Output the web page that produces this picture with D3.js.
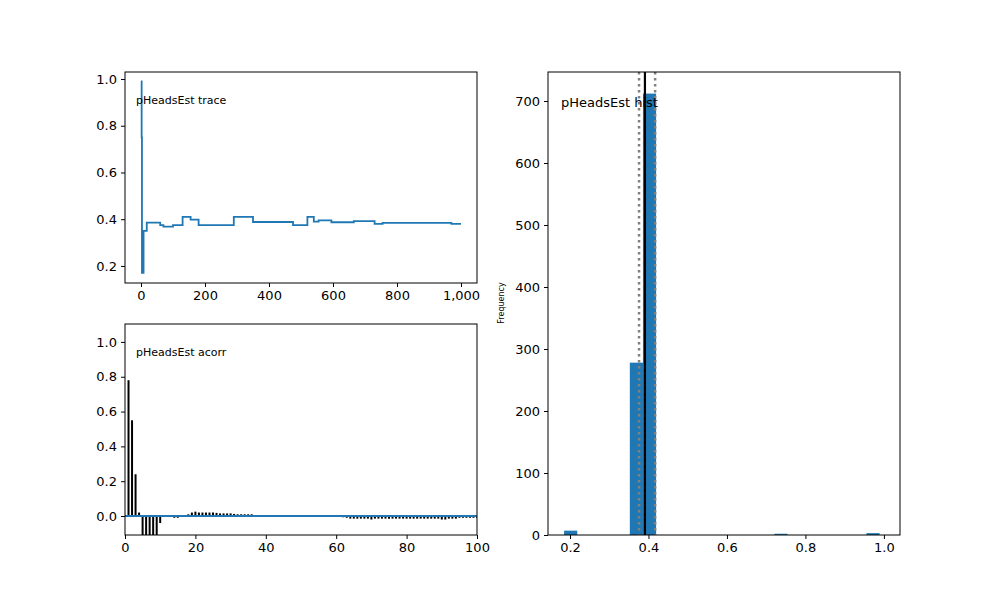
<!DOCTYPE html>
<html>
<head>
<meta charset="utf-8">
<script src="https://cdn.jsdelivr.net/npm/d3@7"></script>
<style>
body { margin: 0; background: #fff; }
text { font-family: "DejaVu Sans", sans-serif; }
</style>
</head>
<body>
<div id="chart"></div>
<script>
// trace: step points [iteration, estimate]
var traceX = [0, 2, 3, 8, 18, 60, 70, 100, 130, 155, 180, 290, 350, 475, 520, 540, 555, 595, 665, 730, 755, 970, 1000];
var traceY = [0.99, 0.75, 0.17, 0.35, 0.385, 0.375, 0.368, 0.375, 0.41, 0.398, 0.375, 0.41, 0.388, 0.375, 0.41, 0.39, 0.395, 0.387, 0.392, 0.38, 0.384, 0.38, 0.38];

// autocorrelation for lags 1..100
var acorr = [0.78, 0.55, 0.24, 0.02, -0.12, -0.12, -0.12, -0.12, -0.12, -0.04,
  0, 0, -0.005, -0.01, -0.01, -0.005, 0, 0.01, 0.02, 0.025,
  0.02, 0.02, 0.02, 0.02, 0.02, 0.018, 0.015, 0.015, 0.015, 0.015,
  0.012, 0.01, 0.01, 0.01, 0.01, 0.01, 0, 0, 0, 0,
  0, 0, 0, 0, 0, 0, 0, 0, 0, 0,
  0, 0, 0, 0, 0, 0, 0, 0, 0, -0.005,
  -0.005, -0.007, -0.01, -0.015, -0.015, -0.015, -0.015, -0.015, -0.015, -0.02,
  -0.015, -0.015, -0.015, -0.015, -0.015, -0.015, -0.015, -0.015, -0.015, -0.015,
  -0.015, -0.015, -0.015, -0.015, -0.015, -0.015, -0.015, -0.015, -0.015, -0.02,
  -0.02, -0.015, -0.015, -0.015, -0.01, -0.01, -0.01, -0.01, -0.01, -0.01];

// histogram bins
var binStart = 0.185, binWidth = 0.0335;
var counts = [7, 0, 0, 0, 0, 278, 712, 0, 0, 0, 0, 0, 0, 0, 0, 0, 2, 0, 0, 0, 0, 0, 0, 3];
var meanVal = 0.391, ciLow = 0.376, ciHigh = 0.417;

var svg = d3.select("#chart").append("svg").attr("width", 1000).attr("height", 600);
var blue = "#1f77b4";

function frame(g, w, h) {
  g.append("rect").attr("width", w).attr("height", h)
    .attr("fill", "none").attr("stroke", "#000").attr("stroke-width", 1);
}
function styleAxis(a) {
  a.selectAll("text").style("font-size", "13px").attr("fill", "#000");
  a.select(".domain").remove();
  a.selectAll("line").attr("stroke", "#000");
}

// ---- trace panel
var tw = 352, th = 211;
var gt = svg.append("g").attr("transform", "translate(125,72)");
var xt = d3.scaleLinear().domain([-50, 1050]).range([0, tw]);
var yt = d3.scaleLinear().domain([0.127, 1.03]).range([th, 0]);
var line = d3.line().x(function(d) { return xt(d[0]); }).y(function(d) { return yt(d[1]); }).curve(d3.curveStepAfter);
gt.append("path").datum(d3.zip(traceX, traceY)).attr("d", line)
  .attr("fill", "none").attr("stroke", blue).attr("stroke-width", 1.8);
styleAxis(gt.append("g").attr("transform", "translate(0," + th + ")").call(d3.axisBottom(xt).tickValues([0, 200, 400, 600, 800, 1000]).tickSize(4).tickPadding(4)));
styleAxis(gt.append("g").call(d3.axisLeft(yt).tickValues([0.2, 0.4, 0.6, 0.8, 1.0]).tickFormat(d3.format(".1f")).tickSize(4).tickPadding(4)));
frame(gt, tw, th);
gt.append("text").attr("x", 11).attr("y", 32).style("font-size", "11px").text("pHeadsEst trace");

// ---- acorr panel
var ga = svg.append("g").attr("transform", "translate(125,324)");
var xa = d3.scaleLinear().domain([0, 100]).range([0, tw]);
var ya = d3.scaleLinear().domain([-0.109, 1.103]).range([th, 0]);
ga.append("clipPath").attr("id", "clipA").append("rect").attr("width", tw).attr("height", th);
var ba = ga.append("g").attr("clip-path", "url(#clipA)");
ba.selectAll("line.bar").data(acorr).enter().append("line")
  .attr("x1", function(d, i) { return xa(i + 1); }).attr("x2", function(d, i) { return xa(i + 1); })
  .attr("y1", ya(0)).attr("y2", function(d) { return ya(d); })
  .attr("stroke", "#000").attr("stroke-width", 2);
ba.append("line").attr("x1", 0).attr("x2", tw).attr("y1", ya(0)).attr("y2", ya(0))
  .attr("stroke", blue).attr("stroke-width", 2);
styleAxis(ga.append("g").attr("transform", "translate(0," + th + ")").call(d3.axisBottom(xa).tickValues([0, 20, 40, 60, 80, 100]).tickSize(4).tickPadding(4)));
styleAxis(ga.append("g").call(d3.axisLeft(ya).tickValues([0, 0.2, 0.4, 0.6, 0.8, 1.0]).tickFormat(d3.format(".1f")).tickSize(4).tickPadding(4)));
frame(ga, tw, th);
ga.append("text").attr("x", 11).attr("y", 32).style("font-size", "11px").text("pHeadsEst acorr");

// ---- histogram panel
var hw = 352, hh = 463;
var gh = svg.append("g").attr("transform", "translate(548,72)");
var xh = d3.scaleLinear().domain([0.144, 1.041]).range([0, hw]);
var yh = d3.scaleLinear().domain([0, 746.8]).range([hh, 0]);
gh.selectAll("rect.bin").data(counts).enter().append("rect")
  .attr("x", function(d, i) { return xh(binStart + i * binWidth); })
  .attr("width", xh(binStart + binWidth) - xh(binStart))
  .attr("y", function(d) { return yh(d); })
  .attr("height", function(d) { return hh - yh(d); })
  .attr("fill", blue);
[ciLow, ciHigh].forEach(function(v) {
  gh.append("line").attr("x1", xh(v)).attr("x2", xh(v)).attr("y1", 0).attr("y2", hh)
    .attr("stroke", "#808080").attr("stroke-width", 2.5).attr("stroke-dasharray", "2.5,3.5");
});
gh.append("line").attr("x1", xh(meanVal)).attr("x2", xh(meanVal)).attr("y1", 0).attr("y2", hh)
  .attr("stroke", "#000").attr("stroke-width", 2.2);
styleAxis(gh.append("g").attr("transform", "translate(0," + hh + ")").call(d3.axisBottom(xh).tickValues([0.2, 0.4, 0.6, 0.8, 1.0]).tickFormat(d3.format(".1f")).tickSize(4).tickPadding(4)));
styleAxis(gh.append("g").call(d3.axisLeft(yh).tickValues([0, 100, 200, 300, 400, 500, 600, 700]).tickSize(4).tickPadding(4)));
frame(gh, hw, hh);
gh.append("text").attr("x", 13).attr("y", 35).style("font-size", "13px").text("pHeadsEst hist");
svg.append("text").attr("transform", "translate(504,303) rotate(-90)").attr("text-anchor", "middle")
  .style("font-size", "8px").text("Frequency");
</script>
</body>
</html>
